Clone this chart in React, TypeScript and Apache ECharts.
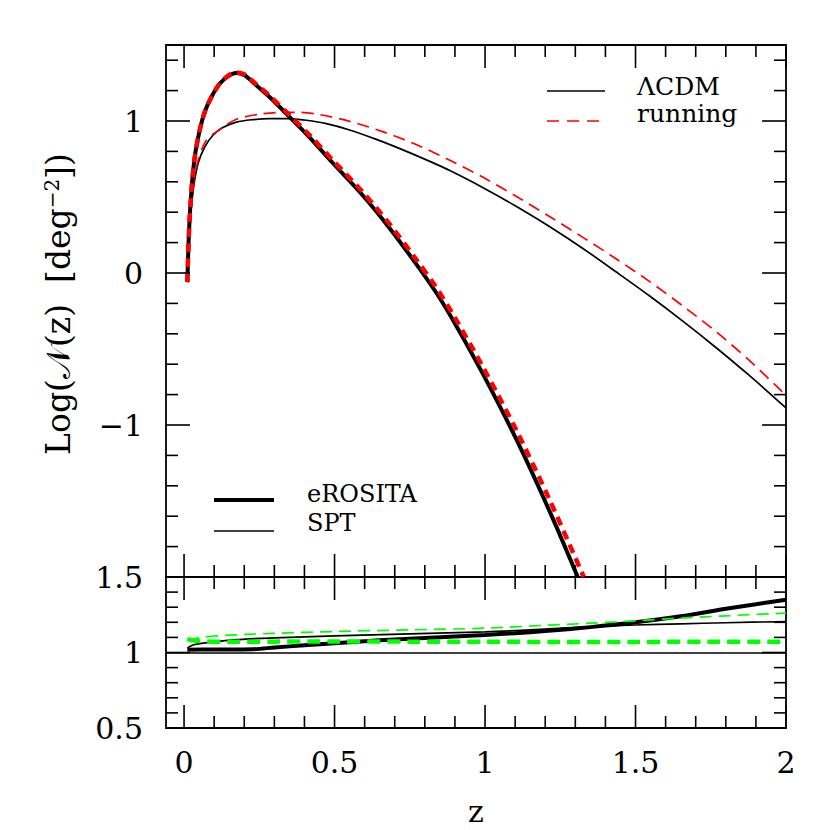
import React, { useEffect, useRef } from 'react';
import * as echarts from 'echarts';

// ---------- axis ticks / labels ----------
const zMajor = [0, 0.5, 1, 1.5, 2];
const zMajorLabels = ['0', '0.5', '1', '1.5', '2'];
const zMinor = [0.1, 0.2, 0.3, 0.4, 0.6, 0.7, 0.8, 0.9, 1.1, 1.2, 1.3, 1.4, 1.6, 1.7, 1.8, 1.9];
const topYMajor = [-2, -1, 0, 1];
const topYLabelValues = [-1, 0, 1];
const topYLabels = ['−1', '0', '1'];
const topYMinor = [-1.8, -1.6, -1.4, -1.2, -0.8, -0.6, -0.4, -0.2, 0.2, 0.4, 0.6, 0.8, 1.2, 1.4];
const botYMajor = [0.5, 1, 1.5];
const botYLabelValues = [0.5, 1, 1.5];
const botYLabels = ['0.5', '1', '1.5'];
const botYMinor = [0.6, 0.7, 0.8, 0.9, 1.1, 1.2, 1.3, 1.4];

// ---------- top panel: Log N(z) ----------
const eRositaLCDM = [
  [0.011, -0.06], [0.0166, 0.28], [0.0246, 0.545], [0.0355, 0.763], [0.052, 0.939], [0.0687, 1.059],
  [0.091, 1.158], [0.119, 1.246], [0.146, 1.294], [0.172, 1.316], [0.201, 1.301], [0.24, 1.235],
  [0.284, 1.158], [0.351, 1.026], [0.417, 0.893], [0.495, 0.722], [0.594, 0.51], [0.683, 0.295],
  [0.771, 0.06], [0.838, -0.13], [0.898, -0.325], [0.992, -0.66], [1.103, -1.09], [1.214, -1.565], [1.308, -2.0],
];
const eRositaRunning = [
  [0.011, -0.06], [0.0166, 0.28], [0.0246, 0.545], [0.0355, 0.763], [0.052, 0.939], [0.0687, 1.059],
  [0.091, 1.158], [0.119, 1.248], [0.146, 1.297], [0.172, 1.32], [0.201, 1.306], [0.24, 1.242],
  [0.284, 1.166], [0.351, 1.037], [0.417, 0.907], [0.495, 0.74], [0.594, 0.532], [0.683, 0.321],
  [0.771, 0.09], [0.838, -0.096], [0.898, -0.287], [0.992, -0.615], [1.103, -1.03], [1.214, -1.49], [1.328, -2.0],
];
const sptLCDM = [
  [0.011, -0.06], [0.019, 0.3], [0.03, 0.54], [0.0465, 0.72], [0.0687, 0.829], [0.096, 0.906],
  [0.129, 0.957], [0.174, 0.993], [0.229, 1.009], [0.284, 1.016], [0.345, 1.016], [0.406, 1.005],
  [0.473, 0.983], [0.55, 0.941], [0.639, 0.879], [0.727, 0.81], [0.826, 0.726], [0.883, 0.674],
  [0.992, 0.563], [1.103, 0.439], [1.214, 0.306], [1.324, 0.163], [1.435, 0.008], [1.546, -0.15],
  [1.656, -0.315], [1.767, -0.49], [1.878, -0.674], [2.0, -0.888],
];
const sptRunning = [
  [0.011, -0.06], [0.019, 0.32], [0.03, 0.56], [0.0465, 0.74], [0.074, 0.873], [0.124, 0.952],
  [0.174, 1.012], [0.251, 1.045], [0.31, 1.056], [0.373, 1.057], [0.439, 1.046], [0.55, 0.998],
  [0.66, 0.93], [0.771, 0.845], [0.883, 0.742], [0.992, 0.631], [1.103, 0.505], [1.214, 0.372],
  [1.324, 0.236], [1.435, 0.094], [1.546, -0.055], [1.656, -0.215], [1.767, -0.385], [1.878, -0.575], [2.0, -0.805],
];

// ---------- bottom panel: ratios ----------
const eRositaRatio = [
  [0.011, 1.018], [0.1, 1.02], [0.229, 1.022], [0.3, 1.033], [0.4, 1.048], [0.5, 1.062], [0.6, 1.075],
  [0.7, 1.086], [0.8, 1.096], [0.9, 1.106], [1.0, 1.116], [1.1, 1.128], [1.2, 1.142], [1.35, 1.168],
  [1.5, 1.2], [1.65, 1.24], [1.8, 1.29], [1.9, 1.32], [2.0, 1.35],
];
const sptRatio = [
  [0.011, 1.03], [0.03, 1.05], [0.063, 1.062], [0.163, 1.084], [0.3, 1.097], [0.5, 1.11], [0.75, 1.124],
  [1.0, 1.137], [1.2, 1.155], [1.35, 1.172], [1.5, 1.182], [1.65, 1.19], [1.8, 1.197], [2.0, 1.205],
];
const sptRunningRatio = [
  [0.011, 1.084], [0.05, 1.097], [0.107, 1.11], [0.3, 1.127], [0.5, 1.139], [0.75, 1.15], [1.0, 1.161],
  [1.2, 1.18], [1.35, 1.194], [1.5, 1.21], [1.65, 1.228], [1.8, 1.243], [2.0, 1.261],
];
const eRositaRunningRatio = [
  [0.011, 1.088], [0.05, 1.076], [0.15, 1.071], [0.3, 1.072], [0.5, 1.073], [0.75, 1.072], [1.0, 1.071],
  [1.25, 1.07], [1.5, 1.07], [1.75, 1.071], [2.0, 1.071],
];

const Z_MIN = -0.06, Z_MAX = 2;
const TOP_MIN = -2, TOP_MAX = 1.5;
const BOT_MIN = 0.5, BOT_MAX = 1.5;
const FONT = 'DejaVu Serif';
const TICK_W = 1.6;

function xTicks(gi: number, yMin: number, yMax: number) {
  return {
    type: 'custom', xAxisIndex: gi, yAxisIndex: gi, silent: true, z: 6, clip: false,
    data: [...zMajor.map((v) => [v, yMin, 1]), ...zMinor.map((v) => [v, yMin, 0])],
    renderItem: (params: any, api: any) => {
      const v = api.value(0);
      const len = api.value(2) === 1 ? 23 : 12;
      const b = api.coord([v, yMin]);
      const t = api.coord([v, yMax]);
      return {
        type: 'group', children: [
          { type: 'line', shape: { x1: b[0], y1: b[1], x2: b[0], y2: b[1] - len }, style: { stroke: '#000', lineWidth: TICK_W } },
          { type: 'line', shape: { x1: t[0], y1: t[1], x2: t[0], y2: t[1] + len }, style: { stroke: '#000', lineWidth: TICK_W } },
        ],
      };
    },
  };
}

function yTicks(gi: number, major: number[], minor: number[]) {
  return {
    type: 'custom', xAxisIndex: gi, yAxisIndex: gi, silent: true, z: 6, clip: false,
    data: [...major.map((v) => [Z_MIN, v, 1]), ...minor.map((v) => [Z_MIN, v, 0])],
    renderItem: (params: any, api: any) => {
      const v = api.value(1);
      const len = api.value(2) === 1 ? 24 : 12;
      const l = api.coord([Z_MIN, v]);
      const r = api.coord([Z_MAX, v]);
      return {
        type: 'group', children: [
          { type: 'line', shape: { x1: l[0], y1: l[1], x2: l[0] + len, y2: l[1] }, style: { stroke: '#000', lineWidth: TICK_W } },
          { type: 'line', shape: { x1: r[0], y1: r[1], x2: r[0] - len, y2: r[1] }, style: { stroke: '#000', lineWidth: TICK_W } },
        ],
      };
    },
  };
}

function yLabels(gi: number, values: number[], labels: string[]) {
  return {
    type: 'custom', xAxisIndex: gi, yAxisIndex: gi, silent: true, z: 6, clip: false,
    data: values.map((v, i) => [Z_MIN, v, i]),
    renderItem: (params: any, api: any) => {
      const p = api.coord([Z_MIN, api.value(1)]);
      return {
        type: 'text', x: p[0] - 23, y: p[1],
        style: { text: labels[api.value(2)], fill: '#000', fontSize: 30, fontFamily: FONT, align: 'right', verticalAlign: 'middle' },
      };
    },
  };
}

function xLabels(gi: number) {
  return {
    type: 'custom', xAxisIndex: gi, yAxisIndex: gi, silent: true, z: 6, clip: false,
    data: zMajor.map((v, i) => [v, BOT_MIN, i]),
    renderItem: (params: any, api: any) => {
      const p = api.coord([api.value(0), BOT_MIN]);
      return {
        type: 'text', x: p[0], y: p[1] + 34,
        style: { text: zMajorLabels[api.value(2)], fill: '#000', fontSize: 30, fontFamily: FONT, align: 'center', verticalAlign: 'middle' },
      };
    },
  };
}

function line(name: string, gi: number, data: number[][], color: string, width: number, dash: any, z: number) {
  return {
    name, type: 'line', xAxisIndex: gi, yAxisIndex: gi, data, showSymbol: false, symbol: 'none',
    smooth: 0.3, z,
    lineStyle: { color, width, type: dash, cap: 'butt' },
  };
}

export default function App() {
  const ref = useRef<HTMLDivElement>(null);
  useEffect(() => {
    if (!ref.current) return;
    const chart = echarts.init(ref.current, undefined, { renderer: 'svg' });
    const axisCommon = {
      type: 'value', axisLine: { show: false }, axisTick: { show: false },
      axisLabel: { show: false }, splitLine: { show: false },
    };
    chart.setOption({
      animation: false,
      backgroundColor: '#fff',
      grid: [
        { left: 166, top: 45, width: 620, height: 532, show: true, borderColor: '#000', borderWidth: 1.8, backgroundColor: 'transparent' },
        { left: 166, top: 577, width: 620, height: 151, show: true, borderColor: '#000', borderWidth: 1.8, backgroundColor: 'transparent' },
      ],
      xAxis: [
        { ...axisCommon, gridIndex: 0, min: Z_MIN, max: Z_MAX },
        { ...axisCommon, gridIndex: 1, min: Z_MIN, max: Z_MAX },
      ],
      yAxis: [
        { ...axisCommon, gridIndex: 0, min: TOP_MIN, max: TOP_MAX },
        { ...axisCommon, gridIndex: 1, min: BOT_MIN, max: BOT_MAX },
      ],
      series: [
        line('SPT ΛCDM', 0, sptLCDM, '#000', 1.7, 'solid', 2),
        line('SPT running', 0, sptRunning, '#ff0000', 1.7, [12, 7], 3),
        line('eROSITA ΛCDM', 0, eRositaLCDM, '#000', 4, 'solid', 4),
        line('eROSITA running', 0, eRositaRunning, '#ff0000', 4.5, [9, 6], 5),
        {
          ...line('SPT ratio', 1, sptRatio, '#000', 1.7, 'solid', 2),
          markLine: {
            silent: true, symbol: 'none', label: { show: false },
            lineStyle: { color: '#000', width: 1.6, type: 'solid' },
            data: [{ yAxis: 1 }],
          },
        },
        line('eROSITA ratio', 1, eRositaRatio, '#000', 4, 'solid', 3),
        line('SPT running ratio', 1, sptRunningRatio, '#00ff00', 1.7, [12, 7], 4),
        line('eROSITA running ratio', 1, eRositaRunningRatio, '#00ff00', 4.5, [13, 7], 5),
        xTicks(0, TOP_MIN, TOP_MAX),
        xTicks(1, BOT_MIN, BOT_MAX),
        yTicks(0, topYMajor, topYMinor),
        yTicks(1, botYMajor, botYMinor),
        yLabels(0, topYLabelValues, topYLabels),
        yLabels(1, botYLabelValues, botYLabels),
        xLabels(1),
      ],
      graphic: [
        { type: 'line', shape: { x1: 547, y1: 91, x2: 605, y2: 91 }, style: { stroke: '#000', lineWidth: 1.7 } },
        { type: 'line', shape: { x1: 547, y1: 121, x2: 605, y2: 121 }, style: { stroke: '#ff0000', lineWidth: 1.7, lineDash: [12, 8] } },
        { type: 'text', x: 637, y: 86, style: { text: 'ΛCDM', fill: '#000', fontSize: 25, fontFamily: FONT, align: 'left', verticalAlign: 'middle' } },
        { type: 'text', x: 637, y: 113, style: { text: 'running', fill: '#000', fontSize: 25, fontFamily: FONT, align: 'left', verticalAlign: 'middle' } },
        { type: 'line', shape: { x1: 214, y1: 500, x2: 274, y2: 500 }, style: { stroke: '#000', lineWidth: 4 } },
        { type: 'line', shape: { x1: 214, y1: 531, x2: 274, y2: 531 }, style: { stroke: '#000', lineWidth: 1.7 } },
        { type: 'text', x: 307, y: 494, style: { text: 'eROSITA', fill: '#000', fontSize: 24, fontFamily: FONT, align: 'left', verticalAlign: 'middle' } },
        { type: 'text', x: 307, y: 523, style: { text: 'SPT', fill: '#000', fontSize: 24, fontFamily: FONT, align: 'left', verticalAlign: 'middle' } },
        {
          type: 'text', x: 58, y: 304, rotation: Math.PI / 2,
          style: {
            text: '{a|Log(𝒩(z)  [deg}{s|−2}{a|])}',
            align: 'center', verticalAlign: 'middle', fill: '#000',
            rich: {
              a: { fontSize: 33, fontFamily: FONT, fill: '#000' },
              s: { fontSize: 20, fontFamily: FONT, fill: '#000', verticalAlign: 'top' },
            },
          },
        },
        { type: 'text', x: 476, y: 811, style: { text: 'z', fill: '#000', fontSize: 30, lineHeight: 30, fontFamily: FONT, align: 'center', verticalAlign: 'middle' } },
      ],
    });
    return () => chart.dispose();
  }, []);
  return <div ref={ref} style={{ position: 'fixed', left: 0, top: 0, width: 830, height: 830 }} />;
}
